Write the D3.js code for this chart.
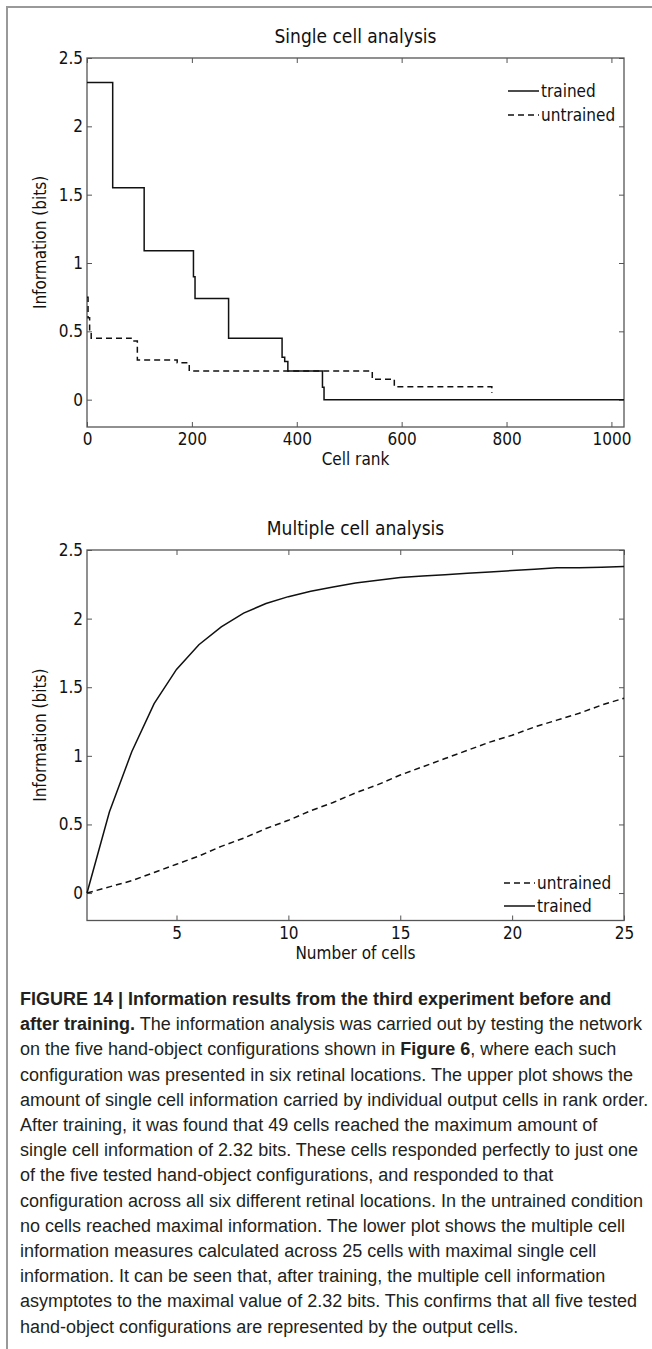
<!DOCTYPE html>
<meta charset="UTF-8">
<script src="https://cdn.jsdelivr.net/npm/d3@7"></script>
<style>
 body { margin:0; background:#fff; }
 svg text { font-family:"DejaVu Sans Condensed","DejaVu Sans",sans-serif; font-stretch:condensed; fill:#111; }
 .tick line { stroke:#555; }
 .frame { fill:none; stroke:#555; stroke-width:1.3px; }
 .series { fill:none; stroke:#111; stroke-width:1.5px; }
 .dashed { stroke-dasharray:6,4; }
 .caption text { font-family:"Liberation Sans",Arial,sans-serif; font-stretch:normal; fill:#231f20; font-size:18px; }
</style>
<svg id="fig" width="652" height="1349"></svg>
<script>
 // Single cell analysis: step breakpoints (cell rank, information in bits)
 var rankTrained   = [0, 49, 109, 203, 206, 270, 372, 377, 383, 449, 452, 1024];
 var bitsTrained   = [2.32, 1.55, 1.09, 0.90, 0.74, 0.45, 0.31, 0.28, 0.21, 0.09, 0, 0];
 var rankUntrained = [0, 2, 5, 8, 84, 96, 172, 195, 544, 586, 772];
 var bitsUntrained = [0.75, 0.6, 0.5, 0.45, 0.43, 0.29, 0.27, 0.21, 0.15, 0.094, 0.048];
 var rankTicks = [0, 200, 400, 600, 800, 1000];

 // Multiple cell analysis
 var nCells = [1,2,3,4,5,6,7,8,9,10,11,12,13,14,15,16,17,18,19,20,21,22,23,24,25];
 var multiTrained   = [0, 0.59, 1.03, 1.38, 1.63, 1.81, 1.94, 2.04, 2.11, 2.16, 2.20, 2.23, 2.26, 2.28, 2.30,
                       2.31, 2.32, 2.33, 2.34, 2.35, 2.36, 2.37, 2.37, 2.375, 2.38];
 var multiUntrained = [0, 0.045, 0.09, 0.15, 0.21, 0.27, 0.34, 0.40, 0.47, 0.53, 0.60, 0.66, 0.73, 0.79, 0.86,
                       0.92, 0.98, 1.04, 1.10, 1.15, 1.21, 1.26, 1.31, 1.37, 1.42];
 var cellTicks = [5, 10, 15, 20, 25];

 var bitsTicks = [0, 0.5, 1, 1.5, 2, 2.5];

 var captionLines = [
   [["b","FIGURE 14 | Information results from the third experiment before and"]],
   [["b","after training."],["n"," The information analysis was carried out by testing the network"]],
   [["n","on the five hand-object configurations shown in "],["b","Figure 6"],["n",", where each such"]],
   [["n","configuration was presented in six retinal locations. The upper plot shows the"]],
   [["n","amount of single cell information carried by individual output cells in rank order."]],
   [["n","After training, it was found that 49 cells reached the maximum amount of"]],
   [["n","single cell information of 2.32 bits. These cells responded perfectly to just one"]],
   [["n","of the five tested hand-object configurations, and responded to that"]],
   [["n","configuration across all six different retinal locations. In the untrained condition"]],
   [["n","no cells reached maximal information. The lower plot shows the multiple cell"]],
   [["n","information measures calculated across 25 cells with maximal single cell"]],
   [["n","information. It can be seen that, after training, the multiple cell information"]],
   [["n","asymptotes to the maximal value of 2.32 bits. This confirms that all five tested"]],
   [["n","hand-object configurations are represented by the output cells."]]
 ];

 var svg = d3.select("#fig");

 // page frame (left and top rules)
 svg.append("path").attr("d","M7,1349V7H652").attr("fill","none").attr("stroke","#999").attr("stroke-width",2);

 var left = 87, right = 624;

 function drawPanel(p) {
   var x = d3.scaleLinear().domain(p.xDomain).range([left, right]);
   var y = d3.scaleLinear().domain([-0.2, 2.5]).range([p.bottom, p.top]);
   var g = svg.append("g");

   g.append("g").attr("transform","translate("+left+",0)")
     .call(d3.axisLeft(y).tickValues(bitsTicks).tickSize(-5).tickPadding(4).tickFormat(d3.format("~g")))
     .call(function(a){ a.select(".domain").remove(); a.selectAll("text").attr("font-size",17).attr("fill","#111"); });
   g.append("g").attr("transform","translate("+right+",0)")
     .call(d3.axisRight(y).tickValues(bitsTicks).tickSize(-5).tickFormat(""))
     .call(function(a){ a.select(".domain").remove(); });
   g.append("g").attr("transform","translate(0,"+p.bottom+")")
     .call(d3.axisBottom(x).tickValues(p.xTicks).tickSize(-5).tickPadding(6).tickFormat(d3.format("~g")))
     .call(function(a){ a.select(".domain").remove(); a.selectAll("text").attr("font-size",17).attr("fill","#111"); });
   g.append("g").attr("transform","translate(0,"+p.top+")")
     .call(d3.axisTop(x).tickValues(p.xTicks).tickSize(-5).tickFormat(""))
     .call(function(a){ a.select(".domain").remove(); });

   g.append("rect").attr("class","frame")
     .attr("x",left).attr("y",p.top).attr("width",right-left).attr("height",p.bottom-p.top);

   g.append("text").attr("x",(left+right)/2).attr("y",p.top-15)
     .attr("text-anchor","middle").attr("font-size",19).text(p.title);
   g.append("text").attr("x",(left+right)/2).attr("y",p.bottom+38)
     .attr("text-anchor","middle").attr("font-size",17).text(p.xLabel);
   g.append("text").attr("transform","translate(46,"+((p.top+p.bottom)/2)+") rotate(-90)")
     .attr("text-anchor","middle").attr("font-size",17).text("Information (bits)");

   p.series.forEach(function(s){
     var pts = s.xs.map(function(v,i){ return [v, s.ys[i]]; });
     g.append("path").attr("class","series"+(s.dashed?" dashed":""))
       .attr("d", d3.line().curve(s.curve || d3.curveLinear)
                  .x(function(d){ return x(d[0]); })
                  .y(function(d){ return y(d[1]); })(pts));
   });

   p.legend.forEach(function(l,i){
     var ly = p.legendY + i*p.legendGap;
     g.append("line").attr("x1",p.legendX).attr("x2",p.legendX+31).attr("y1",ly).attr("y2",ly)
       .attr("class","series"+(l.dashed?" dashed":"")).attr("stroke-dasharray", l.dashed ? "5,4" : null);
     g.append("text").attr("x",p.legendX+33).attr("y",ly).attr("dy","0.35em")
       .attr("font-size",17).text(l.name);
   });
 }

 drawPanel({
   top:58, bottom:427, xDomain:[0,1024], xTicks:rankTicks,
   title:"Single cell analysis", xLabel:"Cell rank",
   series:[
     {xs:rankTrained, ys:bitsTrained, curve:d3.curveStepAfter},
     {xs:rankUntrained, ys:bitsUntrained, curve:d3.curveStepAfter, dashed:true}
   ],
   legendX:508, legendY:91, legendGap:24,
   legend:[{name:"trained"},{name:"untrained", dashed:true}]
 });

 drawPanel({
   top:550, bottom:920.5, xDomain:[1,25], xTicks:cellTicks,
   title:"Multiple cell analysis", xLabel:"Number of cells",
   series:[
     {xs:nCells, ys:multiTrained},
     {xs:nCells, ys:multiUntrained, dashed:true}
   ],
   legendX:504, legendY:883, legendGap:23,
   legend:[{name:"untrained", dashed:true},{name:"trained"}]
 });

 // caption
 var cap = svg.append("g").attr("class","caption");
 captionLines.forEach(function(line,i){
   var t = cap.append("text").attr("x",20).attr("y",1005 + i*25.2);
   line.forEach(function(seg){
     t.append("tspan").attr("font-weight", seg[0]=="b" ? "bold" : null).text(seg[1]);
   });
 });
</script>
